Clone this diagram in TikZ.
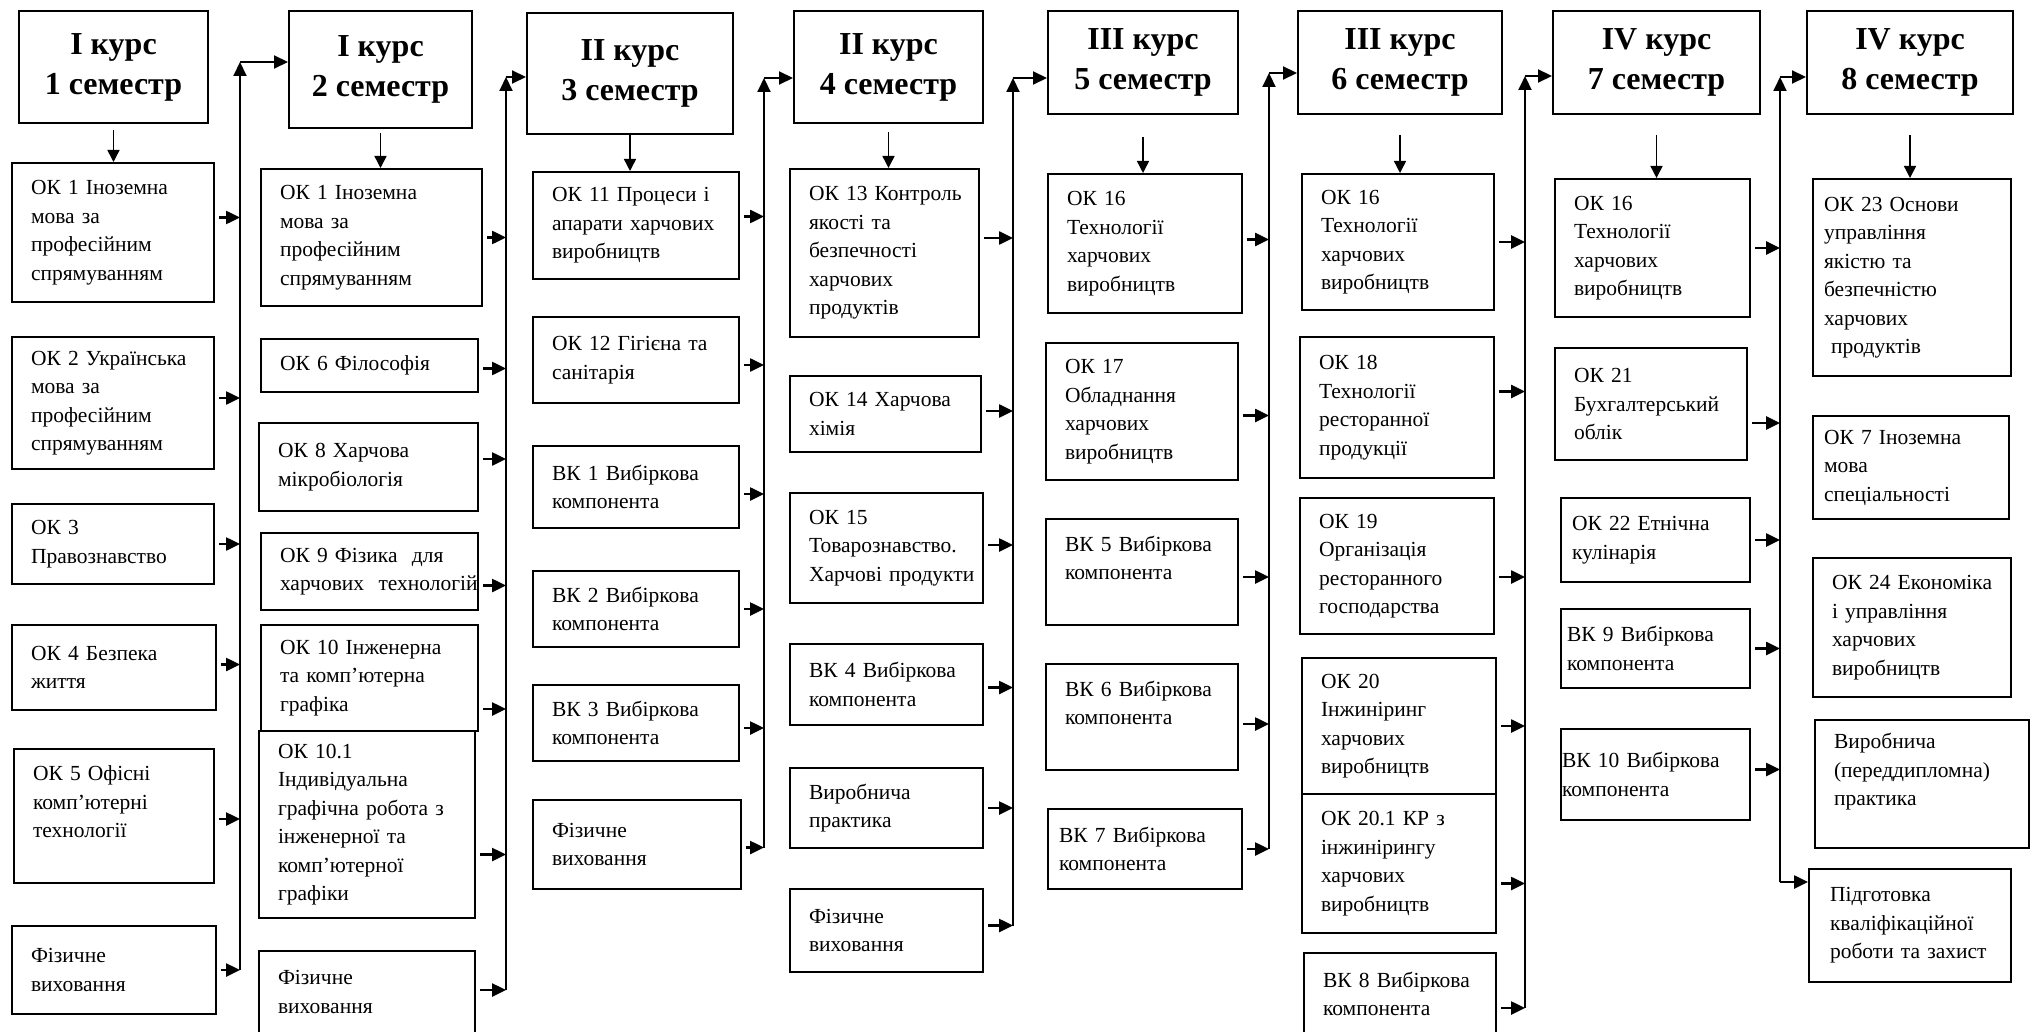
\documentclass[tikz,border=0pt]{standalone}
\usepackage{fontspec}
\setmainfont{Liberation Serif}
\usetikzlibrary{arrows.meta}
\tikzset{
  semester/.style={draw, line width=2pt, anchor=north west, inner sep=0pt, align=center,
    font=\bfseries\fontsize{32}{40}\selectfont},
  subject/.style={draw, line width=2pt, anchor=north west, inner xsep=19pt, inner ysep=0pt,
    align=left, font=\fontsize{21.5}{28.5}\selectfont},
  feed/.style={line width=2.5pt, shorten <=4pt, -{Triangle[length=14pt,width=13pt]}},
  bus/.style={line width=2pt, -{Triangle[length=14pt,width=13pt]}},
  down/.style={line width=1.5pt, -{Triangle[length=12pt,width=12pt]}}
}
\begin{document}
\begin{tikzpicture}[x=1pt, y=-1pt]
\useasboundingbox (0,0) rectangle (2033,1032);
\clip (0,0) rectangle (2033,1032);

% Semester headers
\node[semester, minimum width=189pt, minimum height=112pt] (sem1) at (18,10) {I курс\\1 семестр};
\node[semester, minimum width=183pt, minimum height=117pt] (sem2) at (288,10) {I курс\\2 семестр};
\node[semester, minimum width=206pt, minimum height=121pt] (sem3) at (526,12) {II курс\\3 семестр};
\node[semester, minimum width=189pt, minimum height=112pt] (sem4) at (793,10) {II курс\\4 семестр};
\node[semester, minimum width=190pt, minimum height=103pt] (sem5) at (1047,10) {III курс\\5 семестр};
\node[semester, minimum width=204pt, minimum height=103pt] (sem6) at (1297,10) {III курс\\6 семестр};
\node[semester, minimum width=207pt, minimum height=103pt] (sem7) at (1552,10) {IV курс\\7 семестр};
\node[semester, minimum width=206pt, minimum height=103pt] (sem8) at (1806,10) {IV курс\\8 семестр};

% 1 semester
\node[subject, minimum width=202pt, minimum height=139pt, text width=164pt] (s1-1) at (11,162) {ОК 1 Іноземна\\мова за\\професійним\\спрямуванням};
\node[subject, minimum width=202pt, minimum height=132pt, text width=164pt] (s1-2) at (11,336) {ОК~2~Українська\\мова за\\професійним\\спрямуванням};
\node[subject, minimum width=202pt, minimum height=80pt, text width=164pt] (s1-3) at (11,503) {ОК 3\\Правознавство};
\node[subject, minimum width=204pt, minimum height=85pt, text width=166pt] (s1-4) at (11,624) {ОК 4 Безпека\\життя};
\node[subject, minimum width=200pt, minimum height=134pt, text width=162pt] (s1-5) at (13,748) {ОК 5 Офісні\\комп’ютерні\\технології\\~};
\node[subject, minimum width=204pt, minimum height=88pt, text width=166pt] (s1-6) at (11,925) {Фізичне\\виховання};

% 2 semester
\node[subject, minimum width=221pt, minimum height=137pt, text width=183pt] (s2-1) at (260,168) {ОК 1 Іноземна\\мова за\\професійним\\спрямуванням};
\node[subject, minimum width=217pt, minimum height=53pt, text width=179pt] (s2-2) at (260,338) {ОК 6 Філософія};
\node[subject, minimum width=219pt, minimum height=88pt, text width=181pt] (s2-3) at (258,422) {ОК 8 Харчова\\мікробіологія};
\node[subject, minimum width=217pt, minimum height=77pt, text width=179pt] (s2-4) at (260,532) {ОК~9~Фізика~~для\\харчових~~технологій};
\node[subject, minimum width=217pt, minimum height=106pt, text width=179pt] (s2-5) at (260,624) {ОК 10 Інженерна\\та комп’ютерна\\графіка};
\node[subject, minimum width=216pt, minimum height=187pt, text width=178pt] (s2-6) at (258,730) {ОК 10.1\\Індивідуальна\\графічна робота з\\інженерної та\\комп’ютерної\\графіки};
\node[subject, minimum width=216pt, minimum height=110pt, text width=178pt] (s2-7) at (258,950) {Фізичне\\виховання\\~};

% 3 semester
\node[subject, minimum width=206pt, minimum height=107pt, text width=168pt] (s3-1) at (532,171) {ОК 11 Процеси і\\апарати~харчових\\виробництв};
\node[subject, minimum width=206pt, minimum height=86pt, text width=168pt] (s3-2) at (532,316) {ОК 12 Гігієна та\\санітарія};
\node[subject, minimum width=206pt, minimum height=82pt, text width=168pt] (s3-3) at (532,445) {ВК 1 Вибіркова\\компонента};
\node[subject, minimum width=206pt, minimum height=76pt, text width=168pt] (s3-4) at (532,570) {ВК 2 Вибіркова\\компонента};
\node[subject, minimum width=206pt, minimum height=76pt, text width=168pt] (s3-5) at (532,684) {ВК 3 Вибіркова\\компонента};
\node[subject, minimum width=208pt, minimum height=89pt, text width=170pt] (s3-6) at (532,799) {Фізичне\\виховання};

% 4 semester
\node[subject, minimum width=189pt, minimum height=168pt, text width=151pt] (s4-1) at (789,168) {ОК~13~Контроль\\якості та\\безпечності\\харчових\\продуктів};
\node[subject, minimum width=191pt, minimum height=76pt, text width=153pt] (s4-2) at (789,375) {ОК~14~Харчова\\хімія};
\node[subject, minimum width=193pt, minimum height=110pt, text width=155pt] (s4-3) at (789,492) {ОК 15\\Товарознавство.\\Харчові~продукти};
\node[subject, minimum width=193pt, minimum height=81pt, text width=155pt] (s4-4) at (789,643) {ВК~4~Вибіркова\\компонента};
\node[subject, minimum width=193pt, minimum height=80pt, text width=155pt] (s4-5) at (789,767) {Виробнича\\практика};
\node[subject, minimum width=193pt, minimum height=83pt, text width=155pt] (s4-6) at (789,888) {Фізичне\\виховання};

% 5 semester
\node[subject, minimum width=194pt, minimum height=139pt, text width=156pt] (s5-1) at (1047,173) {ОК 16\\Технології\\харчових\\виробництв};
\node[subject, minimum width=192pt, minimum height=137pt, text width=154pt] (s5-2) at (1045,342) {ОК 17\\Обладнання\\харчових\\виробництв};
\node[subject, minimum width=192pt, minimum height=106pt, text width=154pt] (s5-3) at (1045,518) {ВК~5~Вибіркова\\компонента\\~};
\node[subject, minimum width=192pt, minimum height=106pt, text width=154pt] (s5-4) at (1045,663) {ВК~6~Вибіркова\\компонента\\~};
\node[subject, minimum width=194pt, minimum height=80pt, inner xsep=11pt, text width=172pt] (s5-5) at (1047,808) {ВК 7 Вибіркова\\компонента};

% 6 semester
\node[subject, minimum width=192pt, minimum height=136pt, text width=154pt] (s6-1) at (1301,173) {ОК 16\\Технології\\харчових\\виробництв};
\node[subject, minimum width=194pt, minimum height=141pt, text width=156pt] (s6-2) at (1299,336) {ОК 18\\Технології\\ресторанної\\продукції};
\node[subject, minimum width=194pt, minimum height=136pt, text width=156pt] (s6-3) at (1299,497) {ОК 19\\Організація\\ресторанного\\господарства};
\node[subject, minimum width=194pt, minimum height=136pt, text width=156pt] (s6-4) at (1301,657) {ОК 20\\Інжиніринг\\харчових\\виробництв};
\node[subject, minimum width=194pt, minimum height=139pt, text width=156pt] (s6-5) at (1301,793) {ОК 20.1 КР з\\інжинірингу\\харчових\\виробництв};
\node[subject, minimum width=192pt, minimum height=110pt, text width=154pt] (s6-6) at (1303,952) {ВК~8~Вибіркова\\компонента\\~};

% 7 semester
\node[subject, minimum width=195pt, minimum height=138pt, text width=157pt] (s7-1) at (1554,178) {ОК 16\\Технології\\харчових\\виробництв};
\node[subject, minimum width=192pt, minimum height=112pt, text width=154pt] (s7-2) at (1554,347) {ОК 21\\Бухгалтерський\\облік};
\node[subject, minimum width=189pt, minimum height=84pt, inner xsep=11pt, text width=167pt] (s7-3) at (1560,497) {ОК 22 Етнічна\\кулінарія};
\node[subject, minimum width=189pt, minimum height=79pt, inner xsep=6pt, text width=177pt] (s7-4) at (1560,608) {ВК 9 Вибіркова\\компонента};
\node[subject, minimum width=189pt, minimum height=91pt, inner xsep=1pt, text width=187pt] (s7-5) at (1560,728) {ВК 10 Вибіркова\\компонента};

% 8 semester
\node[subject, minimum width=198pt, minimum height=197pt, inner xsep=11pt, text width=176pt] (s8-1) at (1812,178) {ОК 23 Основи\\управління\\якістю та\\безпечністю\\харчових\\\ продуктів};
\node[subject, minimum width=196pt, minimum height=103pt, inner xsep=11pt, text width=174pt] (s8-2) at (1812,415) {ОК 7 Іноземна\\мова\\спеціальності};
\node[subject, minimum width=198pt, minimum height=139pt, text width=160pt] (s8-3) at (1812,557) {ОК~24~Економіка\\і управління\\харчових\\виробництв};
\node[subject, minimum width=214pt, minimum height=128pt, text width=176pt] (s8-4) at (1814,719) {Виробнича\\(переддипломна)\\практика\\~};
\node[subject, minimum width=202pt, minimum height=113pt, inner xsep=21pt, text width=160pt] (s8-5) at (1808,868) {Підготовка\\кваліфікаційної\\роботи~та~захист};

% Bus lines between semesters
\coordinate (top1) at (240,62);
\coordinate (top2) at (506,77);
\coordinate (top3) at (764,78);
\coordinate (top4) at (1013,78);
\coordinate (top5) at (1269,73);
\coordinate (top6) at (1525,76);
\coordinate (top7) at (1780,77);
\coordinate (bot7) at (1780,882);

% Header to first subject
\foreach \i/\gap in {1/6,2/4,3/0,4/8,5/22,6/20,7/20,8/20}
  \draw[down, shorten <=\gap pt] (sem\i.south) -- (sem\i.south |- s\i-1.north);

% Subjects to bus
\foreach \j/\d in {1/15,2/5,3/0,4/3,5/-3,6/0}
  \draw[feed] ([yshift=\d pt]s1-\j.east) -- ([yshift=\d pt]s1-\j.east -| top1);
\foreach \j/\d in {1/0,2/-3,3/8,4/-14,5/-31,6/-30,7/16}
  \draw[feed] ([yshift=\d pt]s2-\j.east) -- ([yshift=\d pt]s2-\j.east -| top2);
\foreach \j/\d in {1/9,2/-5,3/-7,4/0,5/-5,6/-3}
  \draw[feed] ([yshift=\d pt]s3-\j.east) -- ([yshift=\d pt]s3-\j.east -| top3);
\foreach \j/\d in {1/15,2/3,3/3,4/-3,5/0,6/5}
  \draw[feed] ([yshift=\d pt]s4-\j.east) -- ([yshift=\d pt]s4-\j.east -| top4);
\foreach \j/\d in {1/4,2/-4,3/-5,4/-7,5/0}
  \draw[feed] ([yshift=\d pt]s5-\j.east) -- ([yshift=\d pt]s5-\j.east -| top5);
\foreach \j/\d in {1/0,2/16,3/-11,4/0,5/-20,6/0}
  \draw[feed] ([yshift=\d pt]s6-\j.east) -- ([yshift=\d pt]s6-\j.east -| top6);
\foreach \j/\d in {1/0,2/-19,3/0,4/0,5/5}
  \draw[feed] ([yshift=\d pt]s7-\j.east) -- ([yshift=\d pt]s7-\j.east -| top7);

% Vertical buses up to the next header
\draw[bus] (s1-6.east -| top1) -- (top1);
\draw[bus] ([yshift=16pt]s2-7.east -| top2) -- (top2);
\draw[bus] ([yshift=-3pt]s3-6.east -| top3) -- (top3);
\draw[bus] ([yshift=5pt]s4-6.east -| top4) -- (top4);
\draw[bus] (s5-5.east -| top5) -- (top5);
\draw[bus] (s6-6.east -| top6) -- (top6);
\draw[bus] (bot7) -- (top7);
\draw[feed, shorten <=0pt] (bot7) -- (bot7 -| s8-5.west);

\foreach \i/\n in {1/2,2/3,3/4,4/5,5/6,6/7,7/8}
  \draw[bus] (top\i) -- (top\i -| sem\n.west);
\end{tikzpicture}
\end{document}
